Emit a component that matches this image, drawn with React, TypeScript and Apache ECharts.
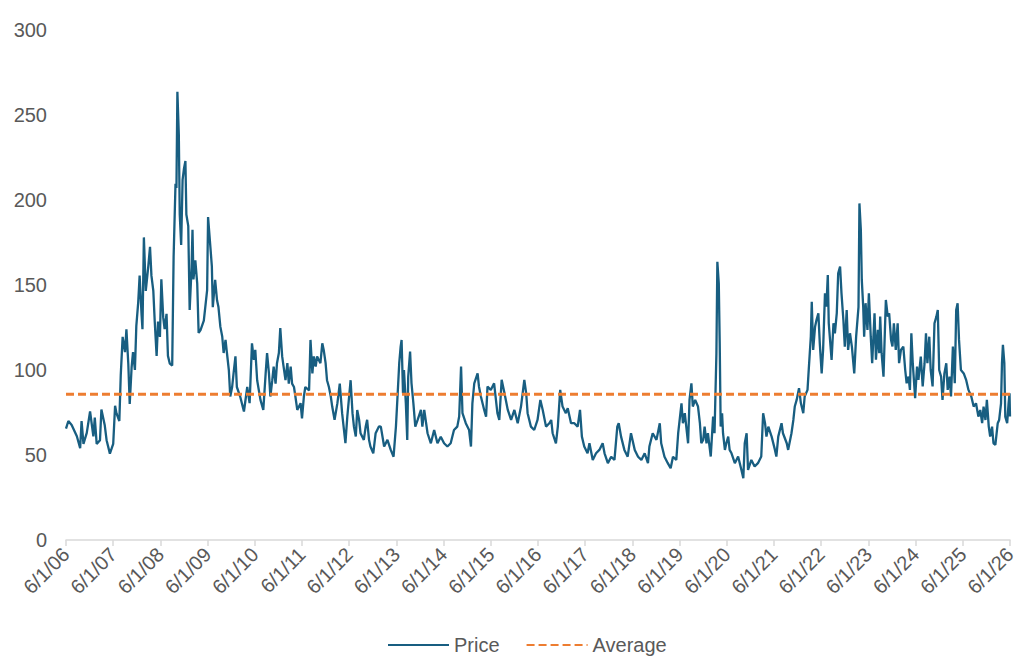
import { useEffect, useRef } from 'react';
import * as echarts from 'echarts';

// Year ticks along the x axis (one per 1 June)
const tickLabels = [
  '6/1/06', '6/1/07', '6/1/08', '6/1/09', '6/1/10', '6/1/11', '6/1/12',
  '6/1/13', '6/1/14', '6/1/15', '6/1/16', '6/1/17', '6/1/18', '6/1/19',
  '6/1/20', '6/1/21', '6/1/22', '6/1/23', '6/1/24', '6/1/25', '6/1/26',
];

const yTicks = { min: 0, max: 300, step: 50 };

// Long-run average price
const averagePrice = 85.7;

// Price history: [years since 6/1/06, price]
const price2006to2009: [number, number][] = [
  [0, 65.5], [0.05, 70], [0.12, 67.7], [0.23, 61], [0.3, 54], [0.33, 70], [0.37, 56.5],
  [0.44, 63], [0.51, 75.6], [0.58, 61], [0.61, 72], [0.65, 56.5], [0.72, 58.7], [0.75, 76.7],
  [0.82, 67.7], [0.86, 58.7], [0.93, 50.8], [1.0, 56.5], [1.04, 79], [1.07, 74.5], [1.13, 70],
  [1.16, 97], [1.2, 119.5], [1.25, 110.5], [1.28, 124], [1.32, 103.7], [1.35, 80], [1.39, 101.5],
  [1.42, 110.5], [1.46, 100], [1.49, 126], [1.53, 139.8], [1.56, 155.5], [1.6, 133], [1.62, 124],
  [1.65, 178], [1.69, 146.5], [1.74, 160], [1.78, 172.4], [1.81, 155.5], [1.85, 146.5],
  [1.88, 128.5], [1.92, 108.3], [1.95, 128.5], [1.99, 119.5], [2.02, 153.3], [2.06, 130.8],
  [2.09, 124], [2.13, 133], [2.16, 108.3], [2.2, 103.7], [2.25, 102.6], [2.28, 166.8],
  [2.32, 209.5], [2.34, 207], [2.36, 263.6], [2.39, 238.8], [2.41, 191.5], [2.44, 173.5],
  [2.47, 211.8], [2.5, 218.6], [2.53, 223], [2.55, 191.5], [2.59, 184.8], [2.62, 135.3],
  [2.66, 160], [2.68, 182.5], [2.7, 153.3], [2.74, 164.5], [2.78, 151], [2.81, 121.8],
  [2.85, 123.5], [2.92, 129], [2.99, 147], [3.01, 190],
];

const price2009to2012: [number, number][] = [
  [3.06, 172], [3.09, 161], [3.11, 137], [3.16, 153], [3.2, 141], [3.23, 137], [3.27, 125.5],
  [3.31, 119.7], [3.34, 110], [3.38, 117.7], [3.41, 110], [3.45, 100], [3.48, 84.4], [3.52, 90],
  [3.55, 98], [3.59, 108], [3.62, 90], [3.69, 84.4], [3.77, 75.6], [3.84, 90], [3.89, 80.5],
  [3.94, 115.7], [3.98, 106], [4.01, 111.8], [4.05, 94], [4.12, 82.4], [4.18, 76.5], [4.23, 98],
  [4.26, 110], [4.3, 98], [4.33, 84.4], [4.37, 94], [4.4, 102], [4.44, 92], [4.47, 104],
  [4.51, 110], [4.54, 124.6], [4.58, 108], [4.61, 102], [4.65, 94], [4.69, 104], [4.72, 92],
  [4.76, 102], [4.79, 92], [4.83, 90], [4.86, 84.4], [4.9, 76.5], [4.97, 80.5], [5.0, 71.6],
  [5.04, 84.4], [5.07, 90], [5.15, 88], [5.18, 117.7], [5.22, 98], [5.25, 108], [5.29, 102],
  [5.32, 108], [5.39, 104], [5.43, 115.7], [5.46, 111.8], [5.5, 104], [5.53, 94], [5.57, 90],
  [5.61, 84.4], [5.64, 78.5], [5.69, 70.7], [5.75, 80.5], [5.8, 92], [5.85, 74.6], [5.92, 57],
  [5.96, 72.6], [6.03, 94], [6.07, 74.6], [6.1, 66.8], [6.14, 60.9], [6.17, 76.5], [6.21, 70.7],
  [6.24, 62.8], [6.31, 58.9], [6.35, 66.8], [6.38, 70.7], [6.42, 58.9], [6.45, 55], [6.51, 51],
  [6.56, 62.8], [6.63, 66.8],
];

const price2012to2016: [number, number][] = [
  [6.67, 66.7], [6.74, 55], [6.81, 58.9], [6.88, 53], [6.94, 49], [6.99, 66.7], [7.02, 82.4],
  [7.06, 104], [7.09, 113.8], [7.11, 117.7], [7.14, 86.3], [7.16, 100], [7.2, 80.4], [7.23, 58.9],
  [7.25, 96], [7.29, 110.8], [7.32, 92.2], [7.36, 80.4], [7.4, 66.7], [7.45, 70.6], [7.52, 76.5],
  [7.55, 66.7], [7.59, 76.5], [7.66, 62.8], [7.73, 56.9], [7.8, 64.7], [7.87, 56.9], [7.94, 60.8],
  [8.01, 56.9], [8.08, 55], [8.15, 56.9], [8.22, 64.7], [8.29, 66.7], [8.33, 72.6], [8.37, 102],
  [8.4, 74.6], [8.47, 68.7], [8.54, 64.7], [8.58, 55], [8.61, 80.4], [8.65, 92.2], [8.72, 98],
  [8.75, 90.2], [8.79, 84.4], [8.86, 76.5], [8.9, 72.6], [8.93, 90.2], [9.0, 88.3], [9.07, 92.2],
  [9.14, 74.6], [9.18, 70.6], [9.23, 94.2], [9.29, 86.3], [9.36, 76.5], [9.43, 70.6], [9.5, 76.5],
  [9.57, 68.7], [9.64, 78.5], [9.71, 94.2], [9.75, 86.3], [9.78, 74.6], [9.85, 66.7], [9.92, 64.7],
  [9.99, 70.6],
];

const price2016to2019: [number, number][] = [
  [10.05, 82.4], [10.1, 76.5], [10.17, 66.7], [10.24, 68.7], [10.28, 70.6], [10.31, 62.8],
  [10.38, 56.9], [10.42, 66.7], [10.47, 88.3], [10.52, 78.5], [10.59, 74.6], [10.63, 77.5],
  [10.7, 68.7], [10.77, 68.7], [10.84, 66.7], [10.89, 76.5], [10.93, 60.8], [10.98, 55],
  [11.05, 51], [11.09, 56.9], [11.16, 47.1], [11.23, 51], [11.3, 53], [11.37, 56.9], [11.41, 51],
  [11.48, 45.2], [11.55, 49], [11.62, 47.1], [11.68, 66.7], [11.71, 68.7], [11.76, 60.8],
  [11.83, 53], [11.9, 49], [11.97, 62.8], [12.05, 53], [12.12, 49], [12.19, 47.1], [12.26, 51],
  [12.33, 45.2], [12.36, 55], [12.43, 62.8], [12.51, 58.9], [12.58, 68.7], [12.61, 56.9],
  [12.68, 49], [12.75, 45.2], [12.81, 42.2], [12.86, 49], [12.93, 47.1], [12.97, 62.8],
  [13.04, 80.4], [13.07, 68.7], [13.11, 74.6], [13.18, 56.9], [13.21, 82.4], [13.25, 92.2],
  [13.28, 78.5], [13.33, 82.4], [13.39, 78.5], [13.43, 68.7], [13.46, 56.9],
];

const price2019to2022: [number, number][] = [
  [13.5, 58.9], [13.53, 66.7], [13.57, 56.9], [13.6, 62.8], [13.66, 49.1], [13.71, 72.6],
  [13.74, 62.8], [13.78, 109.8], [13.8, 163.7], [13.83, 151], [13.85, 115.7], [13.87, 66.7],
  [13.9, 74.6], [13.92, 62.8], [13.96, 53], [13.99, 56.9], [14.03, 60.8], [14.06, 53], [14.1, 51],
  [14.17, 45.2], [14.24, 49.1], [14.31, 41.2], [14.35, 36.4], [14.38, 56.9], [14.42, 62.8],
  [14.45, 41.2], [14.52, 47.1], [14.59, 43.2], [14.66, 45.2], [14.73, 49.1], [14.77, 74.6],
  [14.81, 68.7], [14.84, 60.8], [14.88, 66.7], [14.95, 60.8], [15.02, 53], [15.05, 49.1],
  [15.09, 60.8], [15.16, 68.7], [15.19, 62.8], [15.27, 56.9], [15.3, 53], [15.37, 62.8],
  [15.41, 70.6], [15.44, 78.5], [15.48, 82.4], [15.53, 89.3], [15.57, 80.4], [15.62, 74.6],
  [15.65, 84.4], [15.71, 88.3], [15.74, 102], [15.78, 119.6], [15.8, 140.2], [15.83, 111.8],
  [15.87, 125.5], [15.9, 129.4], [15.94, 133.4], [15.97, 115.7], [16.01, 98], [16.04, 111.8],
  [16.08, 145.1], [16.11, 137.3], [16.14, 155.9], [16.16, 127.5], [16.22, 105.9], [16.26, 127.5],
  [16.29, 121.6], [16.33, 133.4], [16.36, 156.9], [16.4, 160.8], [16.43, 145.1], [16.47, 129.4],
  [16.5, 113.7], [16.54, 135.3], [16.57, 111.8], [16.61, 121.6], [16.65, 113.7], [16.7, 98],
  [16.74, 119.6], [16.79, 137],
];

const price2022to2026: [number, number][] = [
  [16.81, 198], [16.84, 182.4], [16.86, 153], [16.89, 137.3], [16.91, 119.6], [16.94, 139.3],
  [16.98, 123.6], [17.01, 145.1], [17.05, 119.6], [17.08, 104], [17.13, 133.4], [17.16, 106],
  [17.2, 123.6], [17.23, 109.9], [17.25, 131.4], [17.28, 109.9], [17.32, 96.1], [17.35, 123.6],
  [17.37, 141.2], [17.41, 131.4], [17.44, 133.4], [17.48, 117.7], [17.51, 113.8], [17.54, 127.5],
  [17.58, 111.8], [17.62, 127.5], [17.65, 104], [17.69, 111.8], [17.74, 113.8], [17.78, 100],
  [17.81, 92.2], [17.85, 96.1], [17.88, 88.3], [17.91, 121.6], [17.94, 104], [17.99, 83.4],
  [18.03, 102], [18.06, 94.2], [18.11, 107.9], [18.15, 90.3], [18.19, 104], [18.22, 121.6],
  [18.25, 104], [18.29, 119.6], [18.32, 100], [18.36, 90.3], [18.4, 127.5], [18.44, 131.4],
  [18.47, 135.3], [18.5, 100], [18.54, 96.1], [18.57, 82.4], [18.61, 98], [18.65, 104],
  [18.68, 88.3], [18.72, 96.1], [18.75, 84.4], [18.79, 113.8], [18.83, 92.2], [18.86, 135.3],
  [18.89, 139.3], [18.92, 117.7], [18.96, 100], [19.02, 98], [19.07, 94.2], [19.12, 88.3],
  [19.18, 84.4], [19.23, 78.5], [19.28, 80.4], [19.33, 72.6], [19.37, 76.5], [19.41, 68.7],
  [19.44, 78.5], [19.48, 70.6], [19.51, 82.4], [19.55, 66.7], [19.58, 60.8], [19.62, 66.7],
  [19.65, 56.9], [19.69, 56], [19.74, 68.7], [19.77, 70.6], [19.81, 80.4], [19.83, 104],
  [19.85, 114.8], [19.88, 104], [19.9, 72.6], [19.94, 68.7], [19.97, 80.4], [19.99, 86.3],
  [20.0, 72.6],
];

const priceHistory = [
  ...price2006to2009,
  ...price2009to2012,
  ...price2012to2016,
  ...price2016to2019,
  ...price2019to2022,
  ...price2022to2026,
];

const TEXT_COLOR = '#595959';
const PRICE_COLOR = '#185E81';
const AVERAGE_COLOR = '#ED7D31';
const AXIS_COLOR = '#D9D9D9';
const FONT = '"Liberation Sans", Arial, sans-serif';

export default function App() {
  const ref = useRef<HTMLDivElement>(null);

  useEffect(() => {
    if (!ref.current) return;
    const chart = echarts.init(ref.current, null, { renderer: 'svg' });
    const lastIndex = tickLabels.length - 1;

    chart.setOption({
      animation: false,
      backgroundColor: '#ffffff',
      textStyle: { fontFamily: FONT, color: TEXT_COLOR },
      grid: { left: 66, right: 20, top: 30, bottom: 126 },
      legend: {
        left: 387,
        top: 635,
        padding: 0,
        itemWidth: 61,
        itemHeight: 14,
        itemGap: 26,
        // line-only keys: hide the marker drawn on top of each legend line
        itemStyle: { opacity: 0 },
        textStyle: { fontSize: 20, color: TEXT_COLOR, fontFamily: FONT },
        data: ['Price', 'Average'],
      },
      xAxis: {
        type: 'value',
        min: 0,
        max: lastIndex,
        interval: 1,
        splitLine: { show: false },
        axisLine: { show: true, lineStyle: { color: AXIS_COLOR, width: 1.5 } },
        axisTick: { show: true, length: 6, lineStyle: { color: AXIS_COLOR, width: 1.5 } },
        axisLabel: {
          rotate: 45,
          margin: 11,
          fontSize: 20,
          color: TEXT_COLOR,
          fontFamily: FONT,
          formatter: (v: number) => tickLabels[Math.round(v)] ?? '',
        },
      },
      yAxis: {
        type: 'value',
        min: yTicks.min,
        max: yTicks.max,
        interval: yTicks.step,
        splitLine: { show: false },
        axisLine: { show: false },
        axisTick: { show: false },
        axisLabel: { margin: 19, fontSize: 20, color: TEXT_COLOR, fontFamily: FONT },
      },
      series: [
        {
          name: 'Price',
          type: 'line',
          data: priceHistory,
          showSymbol: false,
          symbol: 'none',
          lineStyle: { color: PRICE_COLOR, width: 2.3 },
          itemStyle: { color: PRICE_COLOR },
          z: 2,
        },
        {
          name: 'Average',
          type: 'line',
          data: [
            [0, averagePrice],
            [lastIndex, averagePrice],
          ],
          showSymbol: false,
          symbol: 'none',
          lineStyle: { color: AVERAGE_COLOR, width: 3, type: [8, 4] },
          itemStyle: { color: AVERAGE_COLOR },
          z: 3,
        },
      ],
    });

    return () => chart.dispose();
  }, []);

  return (
    <div
      ref={ref}
      style={{ position: 'fixed', left: 0, top: 0, width: 1030, height: 666 }}
    />
  );
}
